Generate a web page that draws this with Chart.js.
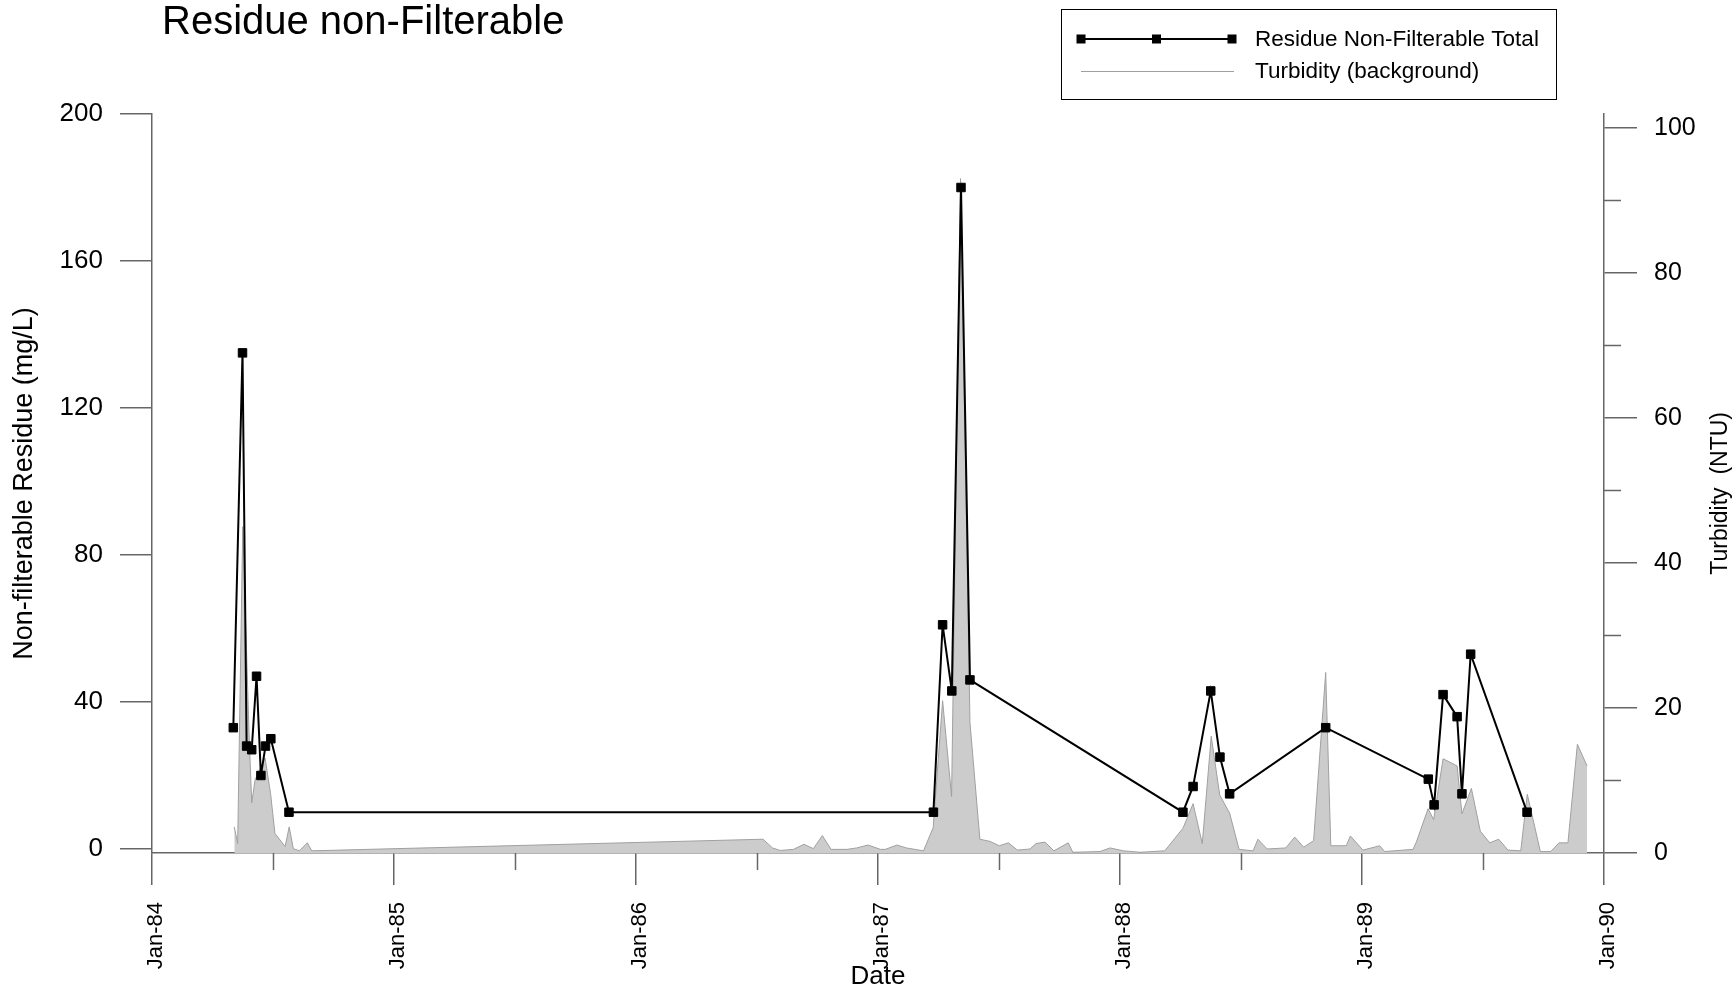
<!DOCTYPE html>
<html>
<head>
<meta charset="utf-8">
<script src="https://cdn.jsdelivr.net/npm/chart.js@4.4.1/dist/chart.umd.min.js"></script>
<style>
  html, body { margin: 0; padding: 0; background: #ffffff; }
  #wrap { width: 1736px; height: 992px; position: relative; }
  canvas { display: block; }
</style>
</head>
<body>
<div id="wrap"><canvas id="c" width="1736" height="992"></canvas></div>
<script>
// ---------- texts ----------
const chartTitle = 'Residue non-Filterable';
const residueLabel = 'Residue Non-Filterable Total';
const turbidityLabel = 'Turbidity (background)';
const xTitle = 'Date';
const leftTitle = 'Non-filterable Residue (mg/L)';
const rightTitle = 'Turbidity  (NTU)';

// ---------- ticks ----------
const xTickValues = [1984, 1985, 1986, 1987, 1988, 1989, 1990];
const xTickLabels = ['Jan-84', 'Jan-85', 'Jan-86', 'Jan-87', 'Jan-88', 'Jan-89', 'Jan-90'];
const xMinorTickValues = [1984.5, 1985.5, 1986.5, 1987.5, 1988.5, 1989.5];
const leftTickValues = [0, 40, 80, 120, 160, 200];
const rightTickValues = [0, 20, 40, 60, 80, 100];
const rightMinorTickValues = [10, 30, 50, 70, 90];

// ---------- data (dates as decimal years) ----------
const residueDates = [
  1984.336, 1984.374, 1984.391, 1984.412, 1984.432, 1984.450, 1984.469, 1984.491, 1984.566,
  1987.229, 1987.267, 1987.305, 1987.343, 1987.380,
  1988.260, 1988.302, 1988.375, 1988.413, 1988.453, 1988.850,
  1989.274, 1989.298, 1989.335, 1989.393, 1989.413, 1989.449, 1989.682
];
const residueValues = [
  33, 135, 28, 27, 47, 20, 28, 30, 10,
  10, 61, 43, 180, 46,
  10, 17, 43, 25, 15, 33,
  19, 12, 42, 36, 15, 53, 10
];

const turbidityDates = [
  1984.340, 1984.354, 1984.375, 1984.401, 1984.412, 1984.426, 1984.467, 1984.490, 1984.508,
  1984.550, 1984.567, 1984.584, 1984.609, 1984.642, 1984.660,
  1986.525, 1986.564, 1986.596, 1986.651, 1986.694, 1986.733, 1986.770, 1986.806, 1986.872,
  1986.912, 1986.959, 1987.010, 1987.030, 1987.078, 1987.117, 1987.188,
  1987.228, 1987.267, 1987.304, 1987.341, 1987.380, 1987.421, 1987.463, 1987.501, 1987.539,
  1987.576, 1987.628, 1987.653, 1987.690, 1987.727, 1987.786, 1987.805, 1987.917, 1987.959,
  1988.014, 1988.083, 1988.185, 1988.226, 1988.260, 1988.302, 1988.340, 1988.377, 1988.412,
  1988.453, 1988.492, 1988.550, 1988.570, 1988.608, 1988.685, 1988.722, 1988.759, 1988.800,
  1988.850, 1988.871, 1988.935, 1988.952, 1989.004, 1989.073, 1989.094, 1989.211, 1989.225,
  1989.273, 1989.296, 1989.335, 1989.393, 1989.413, 1989.452, 1989.489, 1989.528, 1989.565,
  1989.603, 1989.656, 1989.683, 1989.737, 1989.780, 1989.814, 1989.851, 1989.890, 1989.930
];
const turbidityValues = [
  3.6, 1.3, 45.0, 16.5, 6.9, 10.1, 13.1, 8.2, 2.7,
  0.9, 3.6, 0.6, 0.3, 1.4, 0.3,
  1.9, 0.7, 0.35, 0.5, 1.2, 0.6, 2.4, 0.5, 0.5,
  0.7, 1.1, 0.5, 0.5, 1.1, 0.7, 0.3,
  3.5, 21.0, 7.8, 93.0, 18.0, 1.9, 1.6, 1.0, 1.4,
  0.4, 0.55, 1.3, 1.5, 0.3, 1.4, 0.1, 0.2, 0.7,
  0.3, 0.1, 0.3, 2.0, 3.4, 6.8, 1.3, 16.1, 8.0,
  5.5, 0.5, 0.3, 1.9, 0.55, 0.7, 2.2, 0.8, 1.7,
  24.9, 1.0, 1.0, 2.35, 0.4, 1.0, 0.2, 0.5, 1.55,
  6.1, 4.6, 13.0, 12.0, 5.4, 8.9, 3.0, 1.4, 1.9,
  0.4, 0.3, 8.1, 0.2, 0.2, 1.4, 1.4, 15.0, 12.0
];

// ---------- styling ----------
const FONT = '"Liberation Sans", Arial, Helvetica, sans-serif';
const AXIS_COLOR = '#666666';
Chart.defaults.font.family = FONT;
Chart.defaults.color = '#000000';

const decorPlugin = {
  id: 'decor',
  afterDraw(chart) {
    const ctx = chart.ctx;
    const x = chart.scales.x;
    const yR = chart.scales.yR;
    ctx.save();
    // minor ticks (x axis, downward)
    ctx.strokeStyle = AXIS_COLOR;
    ctx.lineWidth = 1.5;
    xMinorTickValues.forEach(v => {
      const px = Math.round(x.getPixelForValue(v)) + 0.5;
      ctx.beginPath(); ctx.moveTo(px, x.top); ctx.lineTo(px, x.top + 17); ctx.stroke();
    });
    // minor ticks (right axis, outward)
    rightMinorTickValues.forEach(v => {
      const py = Math.round(yR.getPixelForValue(v)) + 0.5;
      ctx.beginPath(); ctx.moveTo(yR.left, py); ctx.lineTo(yR.left + 17, py); ctx.stroke();
    });
    // right axis title, reading bottom-to-top
    ctx.fillStyle = '#000';
    ctx.font = '23px ' + FONT;
    ctx.textAlign = 'center';
    ctx.textBaseline = 'middle';
    const cy = (yR.getPixelForValue(0) + yR.getPixelForValue(100)) / 2 + 3;
    ctx.translate(yR.right - 15, cy);
    ctx.rotate(-Math.PI / 2);
    ctx.fillText(rightTitle, 0, 0);
    ctx.restore();

    // chart title
    ctx.save();
    ctx.fillStyle = '#000';
    ctx.font = '40px ' + FONT;
    ctx.textAlign = 'left';
    ctx.textBaseline = 'alphabetic';
    ctx.fillText(chartTitle, 162, 34);
    ctx.restore();

    // legend
    const ds = chart.data.datasets;
    ctx.save();
    ctx.strokeStyle = '#000';
    ctx.lineWidth = 1;
    ctx.strokeRect(1061.5, 9.5, 495, 90);
    const lx0 = 1081, lx1 = 1232, ly = [39, 71];
    // entry 1
    ctx.strokeStyle = ds[0].borderColor;
    ctx.lineWidth = ds[0].borderWidth;
    ctx.beginPath(); ctx.moveTo(lx0, ly[0]); ctx.lineTo(lx1, ly[0]); ctx.stroke();
    ctx.fillStyle = ds[0].pointBackgroundColor;
    [lx0, (lx0 + lx1) / 2, lx1].forEach(px => ctx.fillRect(px - 4.5, ly[0] - 4.5, 9, 9));
    // entry 2
    ctx.strokeStyle = ds[1].borderColor;
    ctx.lineWidth = 1;
    ctx.beginPath(); ctx.moveTo(lx0, ly[1] + 0.5); ctx.lineTo(lx1 + 2, ly[1] + 0.5); ctx.stroke();
    ctx.fillStyle = '#000';
    ctx.font = '22.5px ' + FONT;
    ctx.textAlign = 'left';
    ctx.textBaseline = 'middle';
    ctx.fillText(ds[0].label, 1255, ly[0] + 1);
    ctx.fillText(ds[1].label, 1255, ly[1] + 1);
    ctx.restore();
  }
};

const residueData = residueDates.map((d, i) => ({ x: d, y: residueValues[i] }));
const turbidityData = turbidityDates.map((d, i) => ({ x: d, y: turbidityValues[i] }));

new Chart(document.getElementById('c'), {
  type: 'line',
  data: {
    datasets: [
      {
        label: residueLabel,
        data: residueData,
        yAxisID: 'yL',
        borderColor: '#000000',
        borderWidth: 2,
        pointStyle: 'rect',
        pointRadius: 6,
        pointBackgroundColor: '#000000',
        pointBorderColor: '#000000',
        pointBorderWidth: 1,
        tension: 0,
        fill: false,
        order: 0
      },
      {
        label: turbidityLabel,
        data: turbidityData,
        yAxisID: 'yR',
        borderColor: '#a0a0a0',
        borderWidth: 1,
        backgroundColor: '#cccccc',
        pointRadius: 0,
        tension: 0,
        fill: 'origin',
        order: 1
      }
    ]
  },
  options: {
    responsive: false,
    animation: false,
    devicePixelRatio: 1,
    layout: { padding: { top: 114, left: 0, right: 0, bottom: 0 } },
    plugins: {
      legend: { display: false },
      tooltip: { enabled: false },
      title: { display: false }
    },
    scales: {
      x: {
        type: 'linear',
        position: 'bottom',
        min: 1984,
        max: 1990,
        afterBuildTicks: s => { s.ticks = xTickValues.map(v => ({ value: v })); },
        afterFit: s => { s.height = 139; },
        ticks: {
          autoSkip: false,
          minRotation: 90,
          maxRotation: 90,
          padding: 17,
          labelOffset: 4,
          color: '#000',
          font: { size: 22 },
          callback: (v) => { const k = xTickValues.indexOf(v); return k >= 0 ? xTickLabels[k] : ''; }
        },
        grid: { drawOnChartArea: false, drawTicks: true, tickLength: 32, color: AXIS_COLOR, lineWidth: 1.5 },
        border: { display: true, color: AXIS_COLOR, width: 1.5 },
        title: { display: true, text: xTitle, color: '#000', font: { size: 26 }, padding: { top: 0, bottom: 0 } }
      },
      yL: {
        type: 'linear',
        position: 'left',
        min: -1.1,
        max: 200,
        afterBuildTicks: s => { s.ticks = leftTickValues.map(v => ({ value: v })); },
        afterFit: s => { s.width = 152; },
        ticks: { padding: 17, color: '#000', font: { size: 26 } },
        grid: { drawOnChartArea: false, drawTicks: true, tickLength: 32, color: AXIS_COLOR, lineWidth: 1.5 },
        border: { display: true, color: AXIS_COLOR, width: 1.5 },
        title: { display: true, text: leftTitle, color: '#000', font: { size: 27 }, padding: { top: 8, bottom: 0 } }
      },
      yR: {
        type: 'linear',
        position: 'right',
        min: 0,
        max: 101.9,
        afterBuildTicks: s => { s.ticks = rightTickValues.map(v => ({ value: v })); },
        afterFit: s => { s.width = 132; },
        ticks: { padding: 17, color: '#000', font: { size: 25 } },
        grid: { drawOnChartArea: false, drawTicks: true, tickLength: 33, color: AXIS_COLOR, lineWidth: 1.5 },
        border: { display: true, color: AXIS_COLOR, width: 1.5 },
        title: { display: false }
      }
    }
  },
  plugins: [decorPlugin]
});
</script>
</body>
</html>
